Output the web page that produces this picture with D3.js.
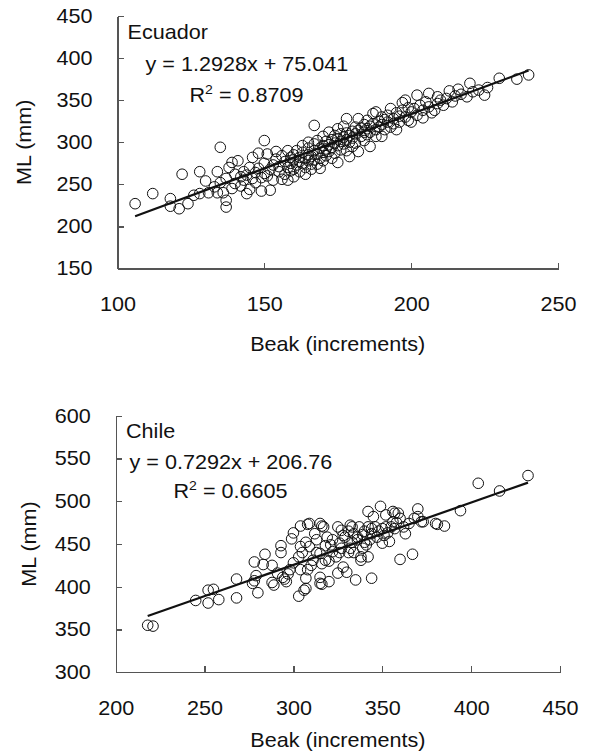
<!DOCTYPE html>
<html lang="en">
    <head>
        <meta charset="utf-8">
        <title>ML vs Beak</title>
        <script type="text/javascript" src="https://cdn.jsdelivr.net/npm/d3@7"></script>
        <style type="text/css">
            body { margin: 0; background: #fff; }
            svg text { font-family: "Liberation Sans", Arial, sans-serif; fill: #111; }
            .axis path, .axis line { stroke: #555; stroke-width: 1.3; shape-rendering: crispEdges; }
            .axis text { font-size: 20px; fill: #111; }
        </style>
    </head>
    <body>
        <script type="text/javascript">
            //Ecuador points [beak, ML]
            var ecuador = [
                [106,227],[112,239],[118,233],[118,224],[121,221],[122,262],[124,227],[126,237],[128,239],[128,265],
                [130,254],[131,240],[133,247],[134,240],[134,265],[135,294],[135,252],[136,240],[137,231],[137,223],
                [137,257],[138,270],[139,276],[139,245],
                [140,262],[140,251],[141,278],[142,259],[142,248],[143,265],[143,255],[144,261],[144,239],[145,244],
                [145,270],[146,257],[146,282],[147,264],[147,252],[148,269],[148,287],[149,258],[149,242],[150,302],
                [150,263],[150,275],
                [151,260],[151,286],[152,268],[152,243],[153,273],[153,255],[154,289],[154,280],[155,265],[155,271],
                [156,284],[156,256],[157,277],[157,262],[158,270],[158,290],[158,255],[159,275],[159,266],[159,282],
                [160,279],[160,268],[160,285],[160,259],
                [161,273],[161,290],[162,282],[162,277],[162,265],[163,288],[163,275],[163,296],[164,281],[164,270],
                [164,262],[165,285],[165,278],[165,293],[165,300],[166,274],[166,283],[166,268],[167,290],[167,279],
                [167,320],[167,298],[168,286],[168,274],[168,302],[169,293],[169,281],[169,269],[170,296],[170,288],
                [170,278],[170,307],
                [171,292],[171,301],[171,284],[172,297],[172,289],[172,312],[173,303],[173,294],[173,281],[174,299],
                [174,308],[174,287],[175,304],[175,296],[175,316],[175,276],[176,301],[176,310],[176,291],[177,306],
                [177,298],[177,319],[178,303],[178,311],[178,328],[178,290],[179,308],[179,283],[179,300],[180,313],
                [180,305],[180,295],
                [181,310],[181,318],[181,299],[182,314],[182,328],[182,289],[183,307],[183,317],[184,312],[184,321],
                [184,302],[185,316],[185,309],[185,326],[186,295],[186,319],[186,312],[187,334],[187,322],[188,336],
                [188,315],[188,307],[189,318],[189,325],[190,321],[190,307],[190,330],
                [191,327],[191,315],[192,324],[192,332],[193,318],[193,340],[194,328],[194,322],[195,315],[195,335],
                [196,331],[196,324],[197,347],[197,338],[198,350],[198,330],[199,326],[199,341],[200,336],[200,324],
                [201,340],[202,356],[202,332],[203,344],[204,329],[204,338],[205,348],[206,358],[206,342],[207,335],
                [208,338],[209,354],[209,346],[210,350],
                [211,344],[212,352],[213,361],[214,348],[215,355],[216,363],[217,357],[219,354],[220,370],[221,360],
                [223,362],[225,356],[226,365],[230,376],[236,375],[240,380]
            ];

            //Chile points [beak, ML]
            var chile = [
                [218,355],[221,354],[245,384],[252,396],[255,397],[252,381],[258,385],[268,409],[268,387],[277,404],
                [278,407],[279,413],[280,393],[278,429],[283,426],[284,438],[288,425],[288,405],[289,402],[291,416],
                [293,448],[293,440],[294,411],[295,409],[296,406],[297,415],[298,420],[299,456],[300,463],[300,428],
                [303,389],[303,435],[304,471],[304,420],[304,447],[305,440],[306,396],[307,410],[307,398],[307,452],
                [308,473],[308,420],[309,447],[309,474],[310,425],[311,431],[312,462],[313,440],[313,455],[315,411],
                [315,404],[315,439],[315,474],[316,403],[316,471],[316,427],[317,470],[318,431],[318,448],[319,458],
                [320,406],[320,430],[321,449],[322,441],[322,455],[324,435],[325,470],[325,416],[326,440],[326,451],
                [327,466],[327,445],[328,423],[328,460],[329,458],[330,417],[331,440],[331,465],[332,472],[332,445],
                [333,470],[333,452],[334,462],[334,440],[335,408],[336,455],[336,458],[337,470],[338,435],[338,431],
                [339,461],[339,445],[340,465],[340,452],[341,449],[342,488],[342,470],[342,435],[343,455],[344,410],
                [344,468],[344,462],[345,482],[346,470],[347,458],[348,465],[349,494],[350,468],[350,451],[351,460],
                [352,484],[352,470],[353,463],[354,453],[355,470],[356,476],[356,488],[357,468],[357,486],[358,475],
                [359,486],[360,432],[360,480],[362,470],[363,462],[365,474],[367,438],[368,480],[370,491],[370,482],
                [372,476],[373,476],[380,474],[381,473],[385,471],[394,489],[404,521],[416,512],[432,530]
            ];

            //Tick values
            var ecuadorXTicks = [100, 150, 200, 250];
            var ecuadorYTicks = [150, 200, 250, 300, 350, 400, 450];
            var chileXTicks = [200, 250, 300, 350, 400, 450];
            var chileYTicks = [300, 350, 400, 450, 500, 550, 600];

            //Fit lines [slope, intercept] and R squared
            var ecuadorFit = [1.2928, 75.041, "0.8709"];
            var chileFit = [0.7292, 206.76, "0.6605"];

            var w = 589;
            var h = 752;
            var stretch = 1.08; //text in the original is a bit wide

            var svg = d3.select("body")
                        .append("svg")
                        .attr("width", w)
                        .attr("height", h);

            //move x/y into a transform so the glyphs can be widened in place
            function widen(sel) {
                sel.each(function() {
                    var x = +this.getAttribute("x") || 0;
                    var y = +this.getAttribute("y") || 0;
                    this.setAttribute("x", 0);
                    this.setAttribute("y", 0);
                    this.setAttribute("transform", "translate(" + x + "," + y + ") scale(" + stretch + ",1)");
                });
            }

            function addText(x, y, str) {
                return svg.append("text")
                    .attr("transform", "translate(" + x + "," + y + ") scale(" + stretch + ",1)")
                    .attr("font-size", "20px")
                    .text(str);
            }

            //one panel: box is [left, right, top, bottom] in px
            function drawPanel(opts) {
                var xScale = d3.scaleLinear()
                                .domain(d3.extent(opts.xTicks))
                                .range([opts.box[0], opts.box[1]]);
                var yScale = d3.scaleLinear()
                                .domain(d3.extent(opts.yTicks))
                                .range([opts.box[3], opts.box[2]]);

                var xAxis = d3.axisBottom(xScale)
                                .tickValues(opts.xTicks)
                                .tickSizeInner(-6)
                                .tickSizeOuter(0)
                                .tickPadding(28);
                var yAxis = d3.axisLeft(yScale)
                                .tickValues(opts.yTicks)
                                .tickSizeInner(-6)
                                .tickSizeOuter(0)
                                .tickPadding(25);

                svg.append("g")
                    .attr("class", "axis")
                    .attr("transform", "translate(0," + opts.box[3] + ")")
                    .call(xAxis)
                    .selectAll(".tick text").call(widen);

                svg.append("g")
                    .attr("class", "axis")
                    .attr("transform", "translate(" + opts.box[0] + ",0)")
                    .call(yAxis)
                    .selectAll(".tick text").call(widen);

                //circles
                svg.append("g")
                    .selectAll("circle")
                    .data(opts.data)
                    .enter()
                    .append("circle")
                    .attr("cx", function(d) { return xScale(d[0]); })
                    .attr("cy", function(d) { return yScale(d[1]); })
                    .attr("r", 5.3)
                    .attr("fill", "none")
                    .attr("stroke", "#111")
                    .attr("stroke-width", 1);

                //trend line over the data range
                var xr = d3.extent(opts.data, function(d) { return d[0]; });
                svg.append("line")
                    .attr("x1", xScale(xr[0]))
                    .attr("y1", yScale(opts.fit[0] * xr[0] + opts.fit[1]))
                    .attr("x2", xScale(xr[1]))
                    .attr("y2", yScale(opts.fit[0] * xr[1] + opts.fit[1]))
                    .attr("stroke", "#111")
                    .attr("stroke-width", 2.2);

                //axis titles
                addText((opts.box[0] + opts.box[1]) / 2, opts.xTitleY, "Beak (increments)")
                    .attr("text-anchor", "middle");

                svg.append("text")
                    .attr("transform", "translate(" + opts.yTitleX + "," + ((opts.box[2] + opts.box[3]) / 2) + ") rotate(-90) scale(" + stretch + ",1)")
                    .attr("text-anchor", "middle")
                    .attr("font-size", "20px")
                    .text("ML (mm)");

                //labels
                addText(opts.labels[0], opts.labels[1], opts.name);
                addText(opts.labels[2], opts.labels[3], "y = " + opts.fit[0] + "x + " + opts.fit[1]);

                var r2 = addText(opts.labels[4], opts.labels[5], "");
                r2.append("tspan").text("R");
                r2.append("tspan").attr("font-size", "13px").attr("dy", -8).text("2");
                r2.append("tspan").attr("dy", 8).text(" = " + opts.fit[2]);
            }

            drawPanel({
                name: "Ecuador",
                data: ecuador,
                xTicks: ecuadorXTicks,
                yTicks: ecuadorYTicks,
                fit: ecuadorFit,
                box: [117.5, 558, 16, 268.5],
                xTitleY: 351,
                yTitleX: 31,
                labels: [127.5, 39, 145.5, 71, 189.5, 102]
            });

            drawPanel({
                name: "Chile",
                data: chile,
                xTicks: chileXTicks,
                yTicks: chileYTicks,
                fit: chileFit,
                box: [115.7, 560, 415.7, 672.3],
                xTitleY: 747,
                yTitleX: 36,
                labels: [126, 437.5, 129.5, 469, 173.5, 497.5]
            });
        </script>
    </body>
</html>
